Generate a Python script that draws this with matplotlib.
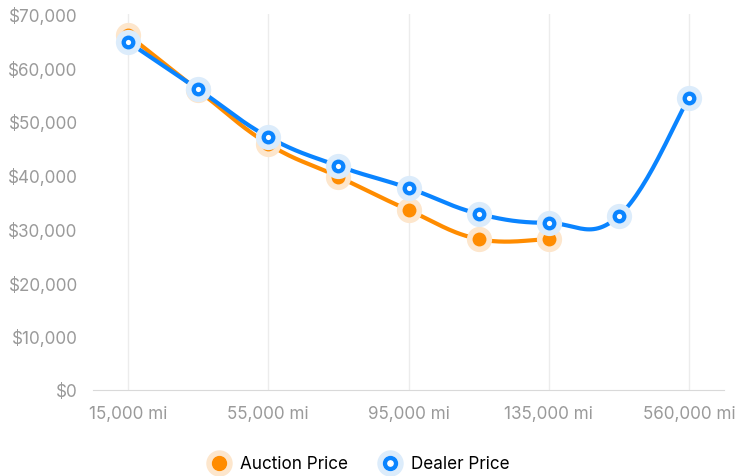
import numpy as np
import matplotlib.pyplot as plt
from matplotlib.lines import Line2D
from matplotlib.ticker import FuncFormatter

plt.rcParams['font.family'] = ['Inter', 'DejaVu Sans']

# data
mileage = ['15,000 mi', '35,000 mi', '55,000 mi', '75,000 mi', '95,000 mi',
           '115,000 mi', '135,000 mi', '155,000 mi', '560,000 mi']
auction = [66100, 55800, 45800, 39700, 33500, 28100, 28100]
dealer = [64800, 56000, 47100, 41700, 37600, 32800, 31100, 32400, 54400]

orange = '#ff8c00'
orange_halo = '#fde6cc'
blue = '#0a84ff'
blue_halo = '#dcecfb'


def smooth(xs, ys, tension=0.4, n=30):
    # bezier curve through the points (like chart.js tension)
    xs = np.asarray(xs, float)
    ys = np.asarray(ys, float)
    px, py = [], []
    for i in range(len(xs) - 1):
        p0 = np.array([xs[max(i - 1, 0)], ys[max(i - 1, 0)]])
        p1 = np.array([xs[i], ys[i]])
        p2 = np.array([xs[i + 1], ys[i + 1]])
        p3 = np.array([xs[min(i + 2, len(xs) - 1)], ys[min(i + 2, len(xs) - 1)]])
        c1 = p1 + (p2 - p0) * tension / 2
        c2 = p2 - (p3 - p1) * tension / 2
        t = np.linspace(0, 1, n)[:, None]
        pts = ((1 - t) ** 3) * p1 + 3 * ((1 - t) ** 2) * t * c1 + 3 * (1 - t) * t ** 2 * c2 + t ** 3 * p2
        px.extend(pts[:, 0])
        py.extend(pts[:, 1])
    return px, py


fig = plt.figure(figsize=(7.39, 4.77), dpi=100)
ax = fig.add_axes([93 / 739, 86 / 477, 631 / 739, 376 / 477])

xa = np.arange(len(auction))
xd = np.arange(len(dealer))

sx, sy = smooth(xa, auction)
ax.plot(sx, sy, color=orange, lw=3, zorder=2, solid_capstyle='round')
sx, sy = smooth(xd, dealer)
ax.plot(sx, sy, color=blue, lw=3, zorder=3, solid_capstyle='round')

ax.scatter(xa, auction, s=330, color=orange_halo, zorder=4, linewidths=0)
ax.scatter(xa, auction, s=100, color=orange, zorder=5, linewidths=0)
ax.scatter(xd, dealer, s=330, color=blue_halo, zorder=6, linewidths=0)
ax.scatter(xd, dealer, s=100, color=blue, zorder=7, linewidths=0)
ax.scatter(xd, dealer, s=14, color='white', zorder=8, linewidths=0)

ax.set_xlim(-0.5, len(mileage) - 0.5)
ax.set_ylim(0, 70000)
ax.set_yticks(range(0, 70001, 10000))
ax.yaxis.set_major_formatter(FuncFormatter(lambda v, p: '${:,.0f}'.format(v)))
ax.set_xticks(xd[::2])
ax.set_xticklabels(mileage[::2])
ax.tick_params(axis='both', length=0, labelsize=12.3, labelcolor='#9a9a9a')
ax.tick_params(axis='y', pad=11)
ax.tick_params(axis='x', pad=11)
ax.grid(axis='x', color='#ececec', lw=1)
ax.set_axisbelow(True)
for s in ['top', 'right', 'left']:
    ax.spines[s].set_visible(False)
ax.spines['bottom'].set_color('#d9d9d9')
ax.patch.set_alpha(0)

h1 = (Line2D([], [], color=orange_halo, marker='o', ms=18, lw=0),
      Line2D([], [], color=orange, marker='o', ms=10, lw=0))
h2 = (Line2D([], [], color=blue_halo, marker='o', ms=18, lw=0),
      Line2D([], [], color=blue, marker='o', ms=10, lw=0),
      Line2D([], [], color='white', marker='o', ms=3.8, lw=0))
fig.legend([h1, h2], ['Auction Price', 'Dealer Price'], loc='center',
           bbox_to_anchor=(0.486, 1 - 465 / 477), ncol=2, frameon=False,
           fontsize=12.3, handlelength=1.2, handletextpad=0.6, columnspacing=1.9)

fig.savefig('out.png', dpi=100)
